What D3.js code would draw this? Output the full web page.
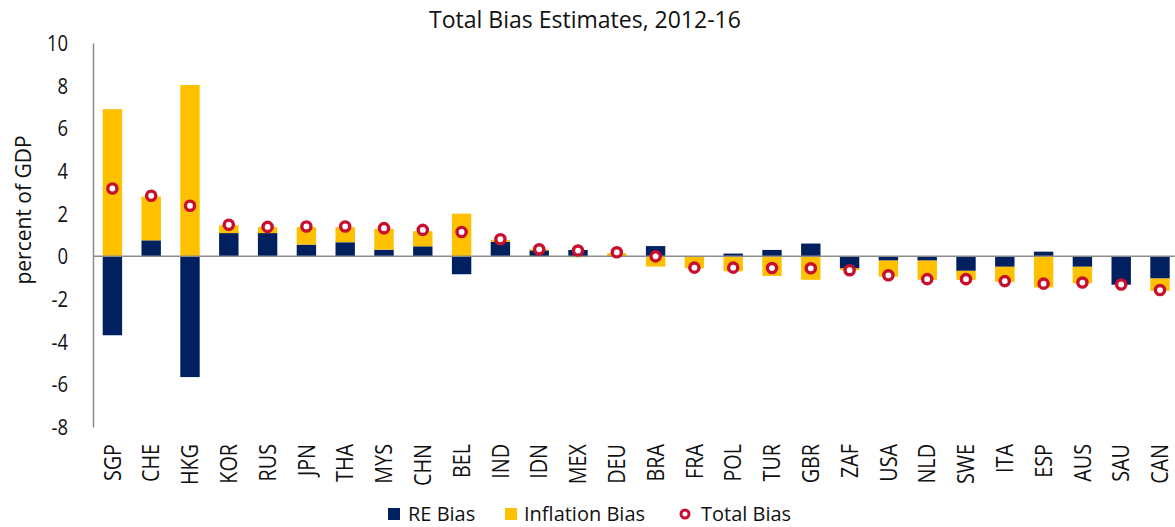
<!DOCTYPE html>
<html>
<head>
<meta charset="utf-8">
<script src="https://cdn.jsdelivr.net/npm/d3@7"></script>
<style>
  html, body { margin: 0; padding: 0; background: #fff; }
  svg { display: block; font-family: "Open Sans", "Noto Sans", sans-serif; }
</style>
</head>
<body>
<svg id="chart" width="1175" height="527"></svg>
<script>
const categories = ["SGP","CHE","HKG","KOR","RUS","JPN","THA","MYS","CHN","BEL","IND","IDN","MEX","DEU","BRA","FRA","POL","TUR","GBR","ZAF","USA","NLD","SWE","ITA","ESP","AUS","SAU","CAN"];
const reBias = [-3.70,0.75,-5.66,1.09,1.09,0.55,0.66,0.31,0.47,-0.84,0.69,0.28,0.30,0.00,0.48,0.00,0.13,0.30,0.60,-0.57,-0.20,-0.20,-0.68,-0.49,0.22,-0.49,-1.33,-1.04];
const inflationBias = [6.90,2.05,8.03,0.37,0.28,0.82,0.71,0.98,0.71,2.00,0.08,0.05,-0.04,0.15,-0.48,-0.56,-0.70,-0.92,-1.10,-0.08,-0.75,-0.90,-0.42,-0.71,-1.46,-0.78,0.00,-0.58];
const totalBias = [3.18,2.84,2.37,1.48,1.38,1.40,1.40,1.32,1.24,1.14,0.80,0.33,0.27,0.19,0.00,-0.53,-0.53,-0.55,-0.56,-0.65,-0.89,-1.07,-1.07,-1.16,-1.28,-1.23,-1.32,-1.58];
const yTicks = [-8,-6,-4,-2,0,2,4,6,8,10];
const title = "Total Bias Estimates, 2012-16";
const yTitle = "percent of GDP";
const seriesNames = ["RE Bias","Inflation Bias","Total Bias"];

const colors = { re: "#002060", infl: "#FFC000", total: "#C8102E", axis: "#8c8c8c" };

const svg = d3.select("#chart");
const x = d3.scaleBand().domain(categories).range([93, 1179.4]).paddingInner(0.5).paddingOuter(0.25);
const y = d3.scaleLinear().domain([-8, 10]).range([427, 43]);

const rows = categories.map((c, i) => ({ cat: c, re: reBias[i], infl: inflationBias[i], total: totalBias[i] }));
const stack = d3.stack().keys(["re", "infl"]).offset(d3.stackOffsetDiverging);
const stacked = stack(rows);

// title
svg.append("text").attr("x", 585).attr("y", 28).attr("text-anchor", "middle")
  .attr("font-size", 23).attr("fill", "#111").text(title);

// y axis labels
const yAxis = d3.axisLeft(y).tickValues(yTicks).tickSize(0).tickPadding(0).tickFormat(d => String(d));
const yg = svg.append("g").attr("transform", "translate(93,0)").call(yAxis);
yg.select(".domain").attr("stroke", colors.axis).attr("stroke-width", 1.5);
yg.selectAll(".tick text")
  .attr("font-family", "Open Sans, sans-serif").attr("font-size", 21).attr("fill", "#111")
  .attr("x", 0).attr("dy", "0.36em")
  .attr("transform", "translate(-25,0) scale(0.88,1)");

// y title
svg.append("text").attr("transform", "translate(31,210) rotate(-90)").attr("text-anchor", "middle")
  .attr("font-size", 21).attr("fill", "#111").text(yTitle);

// bars
const keyColor = { re: colors.re, infl: colors.infl };
svg.append("g").selectAll("g").data(stacked).join("g")
  .attr("fill", s => keyColor[s.key])
  .selectAll("rect").data(s => s).join("rect")
  .attr("x", d => x(d.data.cat))
  .attr("width", x.bandwidth())
  .attr("y", d => y(Math.max(d[0], d[1])))
  .attr("height", d => Math.abs(y(d[0]) - y(d[1])));

// zero line
svg.append("line").attr("x1", 93).attr("x2", 1175).attr("y1", y(0)).attr("y2", y(0))
  .attr("stroke", colors.axis).attr("stroke-width", 1.5);

// total markers
svg.append("g").selectAll("circle").data(rows).join("circle")
  .attr("cx", d => x(d.cat) + x.bandwidth() / 2)
  .attr("cy", d => y(d.total))
  .attr("r", 4.6).attr("fill", "#fff").attr("stroke", colors.total).attr("stroke-width", 3.4);

// category labels
const xAxis = d3.axisBottom(x).tickSize(0).tickPadding(0);
const xg = svg.append("g").call(xAxis);
xg.select(".domain").remove();
xg.selectAll(".tick text")
  .attr("font-family", "Open Sans, sans-serif").attr("font-size", 23).attr("fill", "#111")
  .attr("text-anchor", "end").attr("x", 0).attr("y", 0).attr("dy", "0.36em")
  .attr("transform", "translate(0,444) rotate(-90) scale(0.86,1)");

// legend
const legend = svg.append("g").attr("font-size", 20).attr("fill", "#111");
const lg = [
  { name: seriesNames[0], type: "rect", color: colors.re, mx: 388, tx: 408 },
  { name: seriesNames[1], type: "rect", color: colors.infl, mx: 505, tx: 524 },
  { name: seriesNames[2], type: "circle", color: colors.total, mx: 679, tx: 701 }
];
lg.forEach(l => {
  if (l.type === "rect") {
    legend.append("rect").attr("x", l.mx).attr("y", 508).attr("width", 12).attr("height", 12).attr("fill", l.color);
  } else {
    legend.append("circle").attr("cx", l.mx + 6).attr("cy", 514).attr("r", 4).attr("fill", "#fff")
      .attr("stroke", l.color).attr("stroke-width", 3);
  }
  legend.append("text").attr("x", l.tx).attr("y", 521).text(l.name);
});
</script>
</body>
</html>
